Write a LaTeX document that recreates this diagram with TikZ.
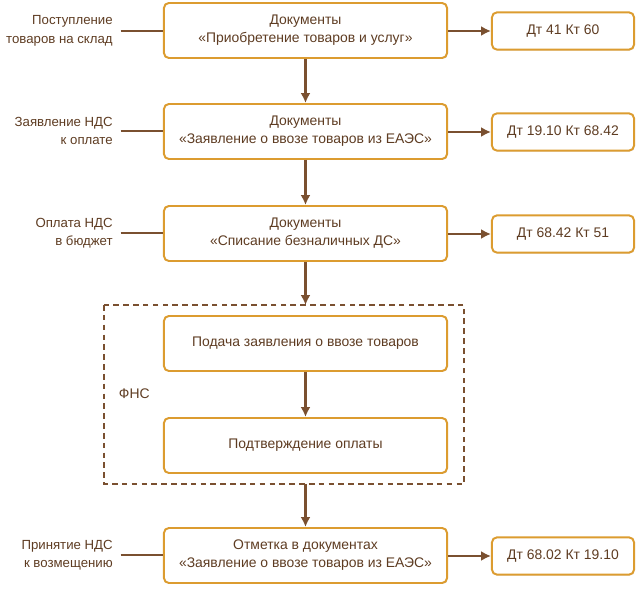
\documentclass[tikz,border=0pt]{standalone}
\usepackage{fontspec}
\setmainfont{Liberation Sans}
\usepackage{tikz}
\usetikzlibrary{positioning,calc,shadows,arrows.meta}
\definecolor{docedge}{HTML}{DC9C30}
\definecolor{doctext}{HTML}{5E3C22}
\definecolor{docline}{HTML}{7A5030}
\tikzset{
  docbox/.style={draw=docedge, line width=1.4pt, fill=white, rounded corners=3.5pt,
    minimum width=7.075cm, minimum height=1.375cm, align=center, text=doctext,
    font=\fontsize{9.9}{12.8}\selectfont,
    drop shadow={shadow xshift=0.5pt, shadow yshift=-0.7pt, opacity=0.2}},
  entrybox/.style={docbox, minimum width=3.55cm, minimum height=0.93cm},
  sidelabel/.style={align=right, anchor=east, text=doctext, inner sep=0pt,
    font=\fontsize{9.4}{13.2}\selectfont},
  flow/.style={docline, line width=1.5pt, -{Latex[length=7pt,width=7pt]}},
  tie/.style={docline, line width=1.5pt}
}
\begin{document}
\begin{tikzpicture}[x=0.025cm, y=-0.025cm]
    \useasboundingbox (0,0) rectangle (640,590);
    % main column of documents
    \node [docbox] (receipt) at (305.5,30.5) {Документы\\«Приобретение товаров и услуг»};
    \node [docbox] (claim) at (305.5,131.5) {Документы\\«Заявление о ввозе товаров из ЕАЭС»};
    \node [docbox] (payment) at (305.5,233.5) {Документы\\«Списание безналичных ДС»};
    \node [docbox] (submit) at (305.5,343.5) {Подача заявления о ввозе товаров};
    \node [docbox] (confirm) at (305.5,445.5) {Подтверждение оплаты};
    \node [docbox] (mark) at (305.5,555.5) {Отметка в документах\\«Заявление о ввозе товаров из ЕАЭС»};

    % tax service frame
    \draw [docline, line width=1.4pt, dash pattern=on 4pt off 3pt]
        (104,305) rectangle (464,484);
    \node [text=doctext, font=\fontsize{9.9}{12.8}\selectfont, anchor=west] (fns) at (114,394) {ФНС};

    % entries on the right
    \node [entrybox] (e1) at (563,31) {Дт 41 Кт 60};
    \node [entrybox] (e2) at (563,132) {Дт 19.10 Кт 68.42};
    \node [entrybox] (e3) at (563,234) {Дт 68.42 Кт 51};
    \node [entrybox] (e4) at (563,556) {Дт 68.02 Кт 19.10};

    % labels on the left
    \node [sidelabel] (l1) at (113,31) {Поступление\\товаров на склад};
    \node [sidelabel] (l2) at (113,131) {Заявление НДС\\к оплате};
    \node [sidelabel] (l3) at (113,233) {Оплата НДС\\в бюджет};
    \node [sidelabel] (l4) at (113,555) {Принятие НДС\\к возмещению};

    % connectors
    \draw [flow] (receipt) -- (claim);
    \draw [flow] (claim) -- (payment);
    \draw [flow] (payment) -- (payment |- 0,305);
    \draw [flow] (submit) -- (confirm);
    \draw [flow] (mark |- 0,484) -- (mark);
    \foreach \src/\dst in {receipt/e1, claim/e2, payment/e3, mark/e4}
        \draw [flow] (\src.east |- \dst) -- (\dst);
    \foreach \lbl/\dst in {l1/receipt, l2/claim, l3/payment, l4/mark}
        \draw [tie] ([xshift=5.5pt]\lbl.east) -- (\dst.west |- \lbl.east);
\end{tikzpicture}
\end{document}
